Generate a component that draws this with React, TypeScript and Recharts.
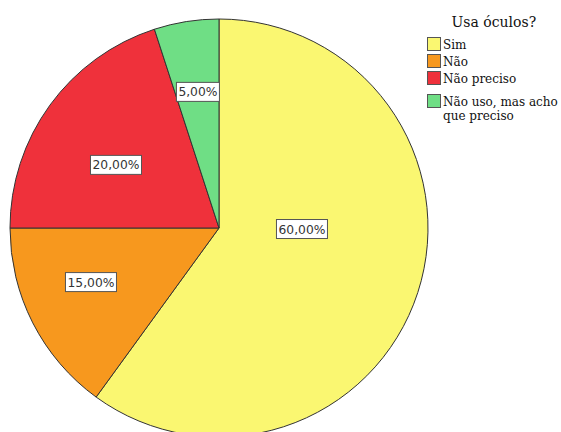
import React from 'react';
import { PieChart, Pie, Cell, Legend } from 'recharts';

const categories = ['Sim', 'Não', 'Não preciso', 'Não uso, mas acho que preciso'];
const legendLines = [['Sim'], ['Não'], ['Não preciso'], ['Não uso, mas acho', 'que preciso']];
const values = [60, 15, 20, 5];
const colors = ['#FAF771', '#F7981E', '#EF313B', '#6FDE85'];
const title = 'Usa óculos?';

// label placement: angle offset from slice mid (deg) and radius fraction
const labelPlacement = [
  { dAngle: 17.3, r: 0.397 },
  { dAngle: -4.1, r: 0.665 },
  { dAngle: 4.5, r: 0.578 },
  { dAngle: -0.2, r: 0.659 },
];

const data = categories.map((name, i) => ({ name, value: values[i] }));

const RADIAN = Math.PI / 180;

const renderLabel = (props: any) => {
  const { cx, cy, midAngle, outerRadius, index, value } = props;
  const p = labelPlacement[index];
  const a = (midAngle + p.dAngle) * RADIAN;
  const x = cx + outerRadius * p.r * Math.cos(a);
  const y = cy - outerRadius * p.r * Math.sin(a);
  const text = value.toFixed(2).replace('.', ',') + '%';
  const w = text.length * 8 + 3;
  const h = 19;
  return (
    <g>
      <rect x={x - w / 2} y={y - h / 2} width={w} height={h} fill="#fff" stroke="#555" strokeWidth={1} />
      <text x={x} y={y + 4.5} textAnchor="middle" fontFamily="DejaVu Sans" fontSize={12.3} fill="#333">
        {text}
      </text>
    </g>
  );
};

const LegendContent = () => {
  const rowsY = [37, 54, 71, 94];
  return (
    <svg width={151} height={125} style={{ display: 'block' }}>
      <text x={41.5} y={22} fontFamily="DejaVu Serif" fontSize={14} fill="#111">
        {title}
      </text>
      {legendLines.map((lines, i) => (
        <g key={i}>
          <rect x={17.5} y={rowsY[i] - 4.5} width={13} height={13} fill={colors[i]} stroke="#555" strokeWidth={1} />
          {lines.map((ln, j) => (
            <text key={j} x={33} y={rowsY[i] + 7 + j * 13.5} fontFamily="DejaVu Serif" fontSize={12} fill="#111">
              {ln}
            </text>
          ))}
        </g>
      ))}
    </svg>
  );
};

export default function App() {
  return (
    <div style={{ position: 'absolute', left: 0, top: 0, width: 561, height: 432, background: '#fff' }}>
      <PieChart width={561} height={432} margin={{ top: 0, right: 0, bottom: 0, left: 0 }}>
        <Pie
          data={data}
          dataKey="value"
          nameKey="name"
          cx={219}
          cy={228}
          outerRadius={209}
          startAngle={90}
          endAngle={-270}
          stroke="#333"
          strokeWidth={1}
          label={renderLabel}
          labelLine={false}
          isAnimationActive={false}
        >
          {data.map((d, i) => (
            <Cell key={d.name} fill={colors[i]} />
          ))}
        </Pie>
        <Legend
          content={<LegendContent />}
          wrapperStyle={{ position: 'absolute', left: 410, top: 5, width: 151 }}
        />
      </PieChart>
    </div>
  );
}
